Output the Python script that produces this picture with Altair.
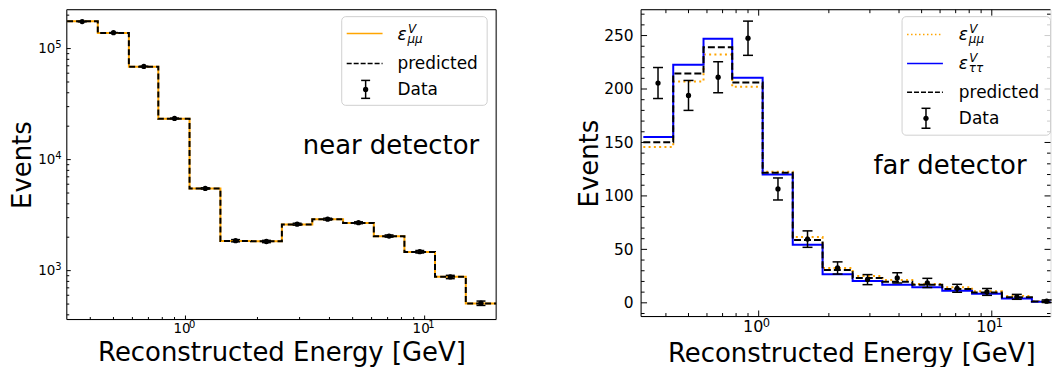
import altair as alt
import pandas as pd

FONT = "DejaVu Sans"

# ---------------- data ----------------
edges = [0.32, 0.43, 0.58, 0.77, 1.04, 1.40, 1.88, 2.53, 3.39, 4.56, 6.13, 8.23, 11.05, 14.86, 20.0]
centers = [0.37, 0.50, 0.67, 0.90, 1.21, 1.62, 2.18, 2.93, 3.93, 5.29, 7.10, 9.54, 12.8, 17.2]

near_data = [175000, 139000, 69000, 23500, 5500, 1860, 1830, 2620, 2910, 2700, 2050, 1480, 877, 509]
near_err = [420, 370, 260, 150, 74, 43, 43, 51, 54, 52, 45, 38, 30, 23]
near_mumu = [176000, 138000, 68500, 23300, 5480, 1850, 1840, 2600, 2900, 2690, 2040, 1470, 880, 505]
near_pred = [176000, 138000, 68500, 23300, 5480, 1850, 1840, 2600, 2900, 2690, 2040, 1470, 880, 505]

far_data = [205.6, 194.0, 211.0, 247.5, 106.5, 59.6, 32.6, 21.7, 23.3, 18.6, 13.6, 10.2, 5.6, 1.5]
far_err = [14.5, 14.0, 14.5, 16.0, 10.3, 7.7, 5.7, 4.7, 4.8, 4.3, 3.7, 3.2, 2.3, 1.2]
far_mumu = [145.7, 207.0, 232.3, 202.0, 122.7, 61.5, 32.6, 25.1, 21.4, 17.7, 14.5, 10.8, 6.5, 1.5]
far_tautau = [155.0, 222.7, 247.0, 210.6, 120.0, 54.3, 26.7, 20.5, 17.0, 14.5, 11.2, 8.4, 4.0, 1.0]
far_pred = [150.3, 214.4, 239.0, 206.0, 121.7, 58.7, 30.7, 23.3, 19.8, 16.8, 13.0, 9.6, 5.3, 1.2]

# axis ticks and tick-label exponents
x_major = [1, 10]
x_exp = ["0", "1"]
x_minor = [0.4, 0.5, 0.6, 0.7, 0.8, 0.9, 2, 3, 4, 5, 6, 7, 8, 9]
near_y_major = [1000, 10000, 100000]
near_y_exp = ["3", "4", "5"]
near_y_minor = [400, 500, 600, 700, 800, 900,
                2000, 3000, 4000, 5000, 6000, 7000, 8000, 9000,
                20000, 30000, 40000, 50000, 60000, 70000, 80000, 90000, 200000]
far_y_major = [0, 50, 100, 150, 200, 250]
far_y_minor = [-10, 10, 20, 30, 40, 60, 70, 80, 90, 110, 120, 130, 140,
               160, 170, 180, 190, 210, 220, 230, 240, 260, 270]

# ---------------- helpers ----------------
one = pd.DataFrame({"k": [0]})


def hrule(x1, x2, y, color="black", width=1.0, dash=None):
    kw = dict(color=color, strokeWidth=width)
    if dash:
        kw["strokeDash"] = dash
    return alt.Chart(one).mark_rule(**kw).encode(x=alt.value(x1), x2=alt.value(x2), y=alt.value(y))


def vrule(x, y1, y2, color="black", width=1.0):
    return alt.Chart(one).mark_rule(color=color, strokeWidth=width).encode(
        x=alt.value(x), y=alt.value(y1), y2=alt.value(y2))


def text(x, y, s, size, align="left", italic=False):
    return alt.Chart(one).mark_text(
        text=s, font=FONT, fontSize=size, align=align, baseline="alphabetic",
        fontStyle="italic" if italic else "normal", color="black"
    ).encode(x=alt.value(x), y=alt.value(y))


def dot(x, y):
    return alt.Chart(one).mark_circle(size=28, color="black", opacity=1).encode(
        x=alt.value(x), y=alt.value(y))


def legend_box(x1, x2, y1, y2):
    return alt.Chart(one).mark_rect(
        fill="white", fillOpacity=0.8, stroke="#d0d0d0", strokeWidth=1, cornerRadius=4
    ).encode(x=alt.value(x1), x2=alt.value(x2), y=alt.value(y1), y2=alt.value(y2))


def errbar_sample(x, yc, half):
    return [vrule(x, yc - half, yc + half, width=1.5),
            hrule(x - 4.5, x + 4.5, yc - half, width=1.5),
            hrule(x - 4.5, x + 4.5, yc + half, width=1.5),
            dot(x, yc)]


def eps(x, y, sub, fs=17):
    return [text(x, y, "ε", fs, italic=True),
            text(x + 10.5, y - 7, "V", 12, italic=True),
            text(x + 10, y + 3, sub, 12, italic=True)]


def anchor(x):
    # white (invisible) 1px rule fixing the panel's left extent for the layout
    return vrule(x, 0, 1, color="white", width=1)


class Panel:
    """Shared scales and axes of one panel; every layer carries identical
    axis definitions so that they merge into one axis."""

    def __init__(self, xs, ys, ax, ay):
        self.xs, self.ys, self.ax, self.ay = xs, ys, ax, ay

    def X(self, f):
        return alt.X(f, scale=self.xs, axis=self.ax)

    def Y(self, f):
        return alt.Y(f, scale=self.ys, axis=self.ay)

    def xticks(self, vals, y1, y2):
        return alt.Chart(pd.DataFrame({"t": vals})).mark_rule(color="black", strokeWidth=1).encode(
            x=self.X("t:Q"), y=alt.value(y1), y2=alt.value(y2))

    def yticks(self, vals, x1, x2):
        return alt.Chart(pd.DataFrame({"t": vals})).mark_rule(color="black", strokeWidth=1).encode(
            y=self.Y("t:Q"), x=alt.value(x1), x2=alt.value(x2))

    def xsup(self, vals, exps, y, dx, size):
        return alt.Chart(pd.DataFrame({"t": vals, "s": exps})).mark_text(
            font=FONT, fontSize=size, align="left", baseline="alphabetic", dx=dx, color="black"
        ).encode(x=self.X("t:Q"), y=alt.value(y), text="s:N")

    def ysup(self, vals, exps, x, dy, size):
        return alt.Chart(pd.DataFrame({"t": vals, "s": exps})).mark_text(
            font=FONT, fontSize=size, align="left", baseline="alphabetic", dy=dy, color="black"
        ).encode(y=self.Y("t:Q"), x=alt.value(x), text="s:N")

    def steps(self, vals, color, width, dash=None):
        df = pd.DataFrame({"E": edges, "N": list(vals) + [vals[-1]]})
        kw = dict(interpolate="step-after", color=color, strokeWidth=width, clip=True)
        if dash:
            kw["strokeDash"] = dash
        return alt.Chart(df).mark_line(**kw).encode(x=self.X("E:Q"), y=self.Y("N:Q"))

    def errbars(self, vals, errs, cap=10):
        df = pd.DataFrame({"E": centers, "N": vals,
                           "lo": [v - e for v, e in zip(vals, errs)],
                           "hi": [v + e for v, e in zip(vals, errs)]})
        b = alt.Chart(df)
        return [
            b.mark_rule(color="black", strokeWidth=1.5).encode(
                x=self.X("E:Q"), y=self.Y("lo:Q"), y2="hi:Q"),
            b.mark_tick(orient="horizontal", size=cap, thickness=1.5, color="black", opacity=1).encode(
                x=self.X("E:Q"), y=self.Y("lo:Q")),
            b.mark_tick(orient="horizontal", size=cap, thickness=1.5, color="black", opacity=1).encode(
                x=self.X("E:Q"), y=self.Y("hi:Q")),
            b.mark_circle(size=28, color="black", opacity=1, clip=True).encode(
                x=self.X("E:Q"), y=self.Y("N:Q")),
        ]


X_TITLE = "Reconstructed Energy [GeV]"

# ---------------- left panel: near detector ----------------
W1, H1 = 431, 311
xs1 = alt.Scale(type="log", domain=[0.319, 19.9], nice=False)
ys1 = alt.Scale(type="log", domain=[363, 224000], nice=False)

ax_x1 = alt.Axis(values=x_major, labelExpr="'10'", ticks=False, domain=False, grid=False,
                 labelFont=FONT, labelFontSize=13.5, labelPadding=2, labelOffset=-4,
                 labelColor="black", labelFlush=False, labelOverlap=False,
                 title=X_TITLE, titleFont=FONT, titleFontSize=26, titleFontWeight="normal",
                 titleColor="black", titleX=W1 / 2, titleY=41, titleBaseline="alphabetic",
                 titleAlign="center")
ax_y1 = alt.Axis(values=near_y_major, labelExpr="'10'",
                 ticks=False, domain=False, grid=False,
                 labelFont=FONT, labelFontSize=13.5, labelPadding=12, labelColor="black",
                 labelFlush=False, labelOverlap=False,
                 title="Events", titleFont=FONT, titleFontSize=26, titleFontWeight="normal",
                 titleColor="black", titleX=-36, titleY=H1 / 2, titleAngle=270,
                 titleBaseline="alphabetic", titleAlign="center")
P1 = Panel(xs1, ys1, ax_x1, ax_y1)

L = [anchor(-57.5)]
L.append(P1.steps(near_mumu, "orange", 2))
L.append(P1.steps(near_pred, "black", 2, dash=[6, 3]))
L += P1.errbars(near_data, near_err, cap=9)
L += [P1.xticks(x_major, H1, H1 - 4), P1.xticks(x_minor, H1, H1 - 2.5),
      P1.yticks(near_y_major, 0, 4), P1.yticks(near_y_minor, 0, 2.5)]
L += [P1.xsup(x_major, x_exp, H1 + 9, 3.5, 10), P1.ysup(near_y_major, near_y_exp, -11.5, -0.5, 10)]
L += [vrule(0, 0, H1), vrule(W1, 0, H1), hrule(0, W1, 0), hrule(0, W1, H1)]
# legend
L.append(legend_box(276, 422, 7, 96))
L.append(hrule(281, 317, 24, color="orange", width=1.5))
L.append(hrule(281, 317, 54, color="black", width=1.5, dash=[5, 2]))
L += errbar_sample(300, 80, 9)
L += eps(332, 30, "μμ")
L.append(text(332, 60, "predicted", 17))
L.append(text(332, 86, "Data", 17))
L.append(text(414, 145, "near detector", 26, align="right"))

left = alt.layer(*L).properties(width=W1, height=H1)

# ---------------- right panel: far detector ----------------
# (the reference crops this panel at the window edge; keep the page within the body width)
W2, H2 = 411, 308
xs2 = alt.Scale(type="log", domain=[0.313, 17.86], nice=False)
ys2 = alt.Scale(type="linear", domain=[-12.8, 274.2], nice=False, zero=False)

ax_x2 = alt.Axis(values=x_major, labelExpr="'10'", ticks=False, domain=False, grid=False,
                 labelFont=FONT, labelFontSize=16, labelPadding=2, labelOffset=-6,
                 labelColor="black", labelFlush=False, labelOverlap=False,
                 title=X_TITLE, titleFont=FONT, titleFontSize=26, titleFontWeight="normal",
                 titleColor="black", titleX=211, titleY=45, titleBaseline="alphabetic",
                 titleAlign="center")
ax_y2 = alt.Axis(values=far_y_major, format="d", ticks=False, domain=False, grid=False,
                 labelFont=FONT, labelFontSize=15.5, labelPadding=8, labelColor="black",
                 labelFlush=False, labelOverlap=False,
                 title="Events", titleFont=FONT, titleFontSize=26, titleFontWeight="normal",
                 titleColor="black", titleX=-44, titleY=H2 / 2, titleAngle=270,
                 titleBaseline="alphabetic", titleAlign="center")
P2 = Panel(xs2, ys2, ax_x2, ax_y2)

R = [anchor(-65.5)]
R.append(P2.steps(far_mumu, "orange", 2, dash=[2, 3.3]))
R.append(P2.steps(far_tautau, "blue", 2))
R.append(P2.steps(far_pred, "black", 2, dash=[7, 3]))
R += P2.errbars(far_data, far_err, cap=10)
R += [P2.xticks(x_major, H2, H2 - 6), P2.xticks(x_minor, H2, H2 - 3.5),
      P2.xticks(x_major, 0, 6), P2.xticks(x_minor, 0, 3.5),
      P2.yticks(far_y_major, 0, 6), P2.yticks(far_y_minor, 0, 3.5),
      P2.yticks(far_y_major, W2 - 6, W2), P2.yticks(far_y_minor, W2 - 3.5, W2)]
R += [P2.xsup(x_major, x_exp, H2 + 10.5, 4, 11.5)]
R += [vrule(0, 0, H2), hrule(0, W2, 0), hrule(0, W2, H2)]
# legend
R.append(legend_box(262, 411, 7, 126))
R.append(hrule(267, 303, 25, color="orange", width=1.5, dash=[1.5, 2.5]))
R.append(hrule(267, 303, 54, color="blue", width=1.5))
R.append(hrule(267, 303, 83, color="black", width=1.5, dash=[5, 2]))
R += errbar_sample(286, 109, 10)
R += eps(319, 30, "μμ")
R += eps(319, 60, "ττ")
R.append(text(319, 89, "predicted", 17))
R.append(text(319, 115, "Data", 17))
R.append(text(387, 165, "far detector", 26, align="right"))

right = alt.layer(*R).properties(width=W2, height=H2)

chart = alt.hconcat(left, right, spacing=77.5).properties(
    padding={"left": 0, "top": 0, "right": 0, "bottom": 0}
).configure_view(stroke=None).configure(background="white")

chart.save("out.html", embed_options={"renderer": "svg", "actions": False})
